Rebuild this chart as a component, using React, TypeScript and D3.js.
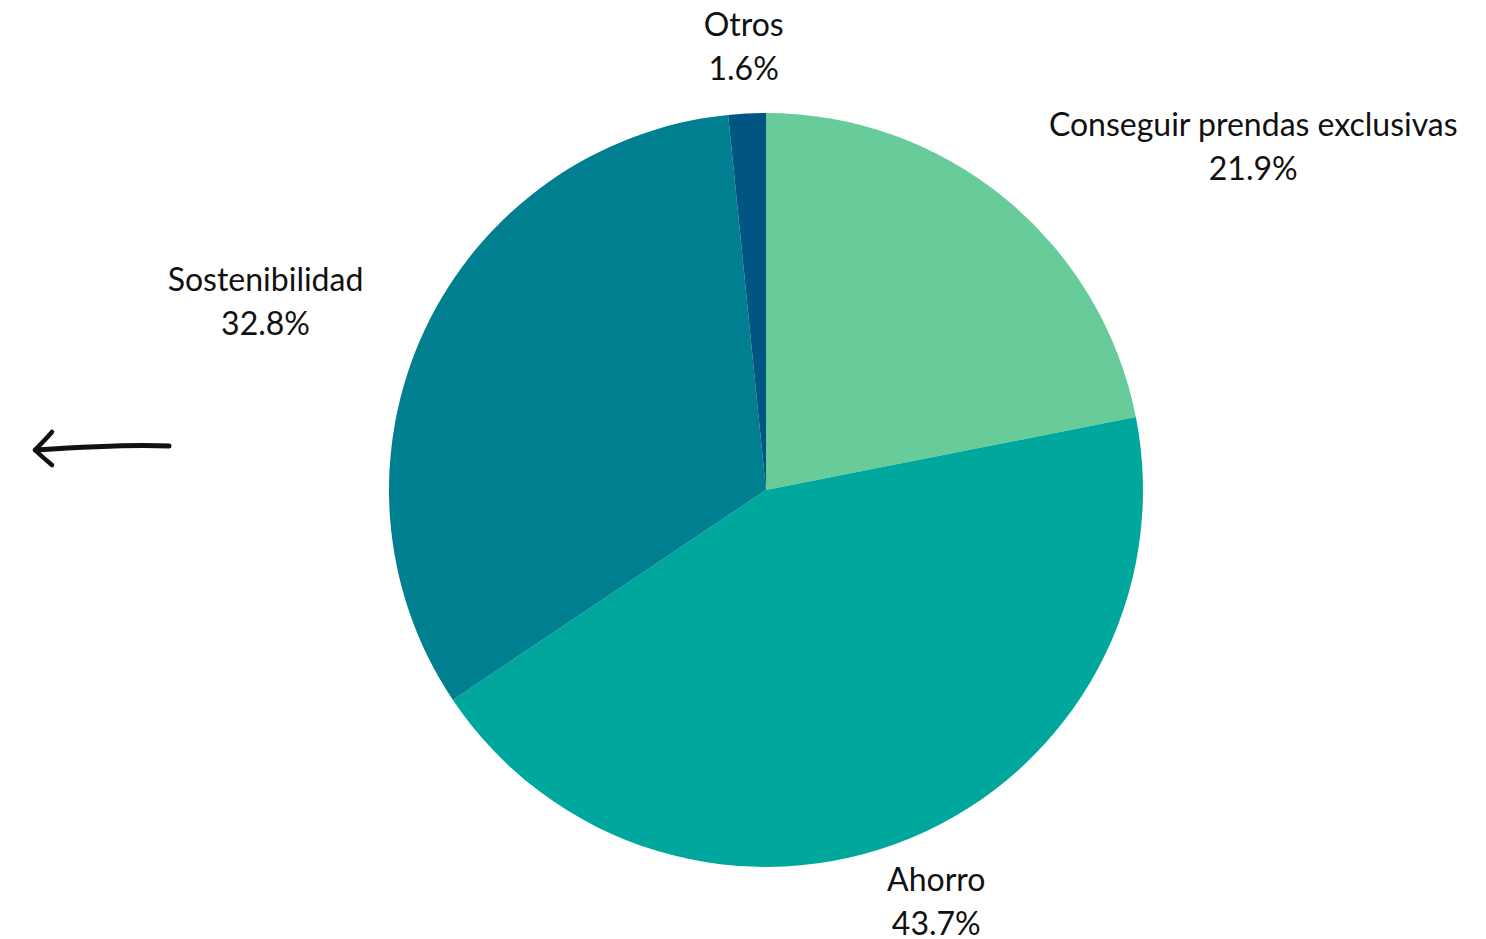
import React from "react";
import * as d3 from "d3";

const categories = ["Conseguir prendas exclusivas", "Ahorro", "Sostenibilidad", "Otros"];
const values = [21.9, 43.7, 32.8, 1.6];
const colors = ["#68cc9a", "#00a79c", "#007f90", "#005582"];

const W = 1486;
const H = 939;
const cx = 766;
const cy = 490;
const R = 377;
const LR = 445;
const FS = 32;

function measure(t: string): number {
  const c = document.createElement("canvas").getContext("2d");
  if (!c) return t.length * FS * 0.5;
  c.font = `${FS}px Lato`;
  return c.measureText(t).width;
}

export default function App() {
  const data = categories.map((c, i) => ({ c, v: values[i], col: colors[i] }));
  const pie = d3.pie<any>().value((d) => d.v).sort(null);
  const arcs = pie(data);
  const arcGen = d3.arc<any>().innerRadius(0).outerRadius(R);

  return (
    <svg
      width={W}
      height={H}
      style={{ position: "absolute", left: 0, top: 0, background: "#fff" }}
      fontFamily="Lato, sans-serif"
    >
      <g transform={`translate(${cx},${cy})`}>
        {arcs.map((a, i) => (
          <path key={i} d={arcGen(a) as string} fill={a.data.col} />
        ))}
        {arcs.map((a, i) => {
          const mid = (a.startAngle + a.endAngle) / 2;
          const x = LR * Math.sin(mid);
          const y = -LR * Math.cos(mid);
          const s = Math.sin(mid);
          const l1 = a.data.c;
          const l2 = `${a.data.v.toFixed(1)}%`;
          const bw = Math.max(measure(l1), measure(l2));
          const tx = Math.abs(s) < 0.45 ? x : s > 0 ? x + bw / 2 : x - bw / 2;
          return (
            <text key={i} textAnchor="middle" fontSize={FS} fill="#111">
              <tspan x={tx} y={y - 10}>{l1}</tspan>
              <tspan x={tx} y={y + 34}>{l2}</tspan>
            </text>
          );
        })}
      </g>
      <g fill="none" stroke="#111" strokeLinecap="round" strokeLinejoin="round">
        <path d="M169,446 C130,444 80,447 36,450" strokeWidth={5} />
        <path d="M52,432 C45,440 40,445 35,450" strokeWidth={4.5} />
        <path d="M35,450 C40,455 46,460 52,465" strokeWidth={4.5} />
      </g>
    </svg>
  );
}
